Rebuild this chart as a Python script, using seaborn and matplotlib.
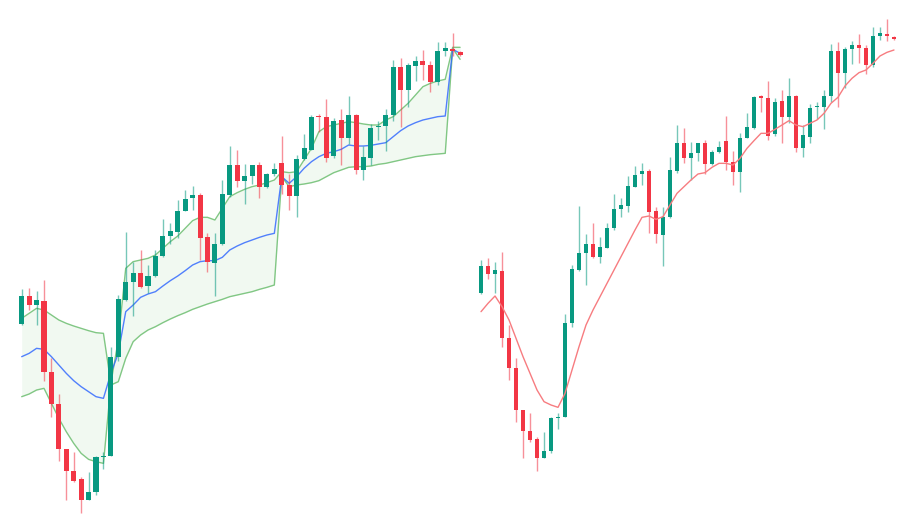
import numpy as np
import pandas as pd
import seaborn as sns
import matplotlib
matplotlib.use("Agg")
import matplotlib.pyplot as plt

sns.set_theme(style="white")

# OHLC in price units
opens  = [552,632,607,617,417,327,200,137,113,55,77,175,178,460,620,672,697,660,687,745,802,812,870,907,917,797,725,778,917,1002,955,970,1002,938,975,1007,945,915,1017,1045,1140,1137,1027,1127,1078,1142,987,1020,1108,1110,1142,1277,1212,1282,1294,1285,1235,1322,1328,1320]
closes = [632,607,620,417,327,200,137,110,55,77,175,178,460,622,670,697,658,688,745,802,815,872,905,917,795,727,778,920,1002,955,970,1002,938,975,990,945,915,1017,1048,1138,1137,1022,1125,1078,1142,987,1025,1107,1110,1142,1277,1212,1283,1295,1285,1235,1323,1332,1322,1312]
highs  = [650,655,645,675,455,355,200,190,120,135,180,190,488,635,812,728,760,720,760,848,837,902,932,942,922,810,810,960,1055,1045,1005,1002,1010,980,1008,1083,977,1030,1090,1142,1145,1187,1135,1160,1195,1145,1055,1118,1125,1160,1298,1303,1288,1308,1327,1295,1348,1348,1373,1322]
lows   = [548,592,550,390,290,165,55,105,17,55,70,142,178,448,618,575,655,640,685,740,778,795,870,875,732,700,632,775,910,940,890,947,907,935,970,920,875,855,1015,1043,1095,1010,1022,1002,1060,975,960,1002,1072,1042,1125,1108,1165,1238,1240,1208,1228,1310,1308,1310]

# right panel moving average (price units)
ma_right = [495,520,542,510,470,415,360,310,260,225,215,208,250,320,390,455,500,540,580,620,660,700,740,778,782,772,780,815,850,870,890,908,912,928,940,940,935,955,985,1008,1030,1030,1042,1055,1068,1055,1050,1060,1070,1090,1120,1138,1172,1195,1212,1220,1240,1262,1273,1280]

# left panel bands (read in left-panel pixel scale)
upper_px = [895,880,865,870,885,900,910,918,925,932,938,940,1090,960,745,725,720,715,705,685,665,648,625,602,592,592,600,565,530,518,508,500,495,488,480,455,458,455,420,385,335,320,315,310,305,308,312,315,315,300,290,270,250,225,200,190,183,178,82,82]
middle_px = [1010,1000,985,988,1010,1035,1060,1082,1100,1115,1130,1135,1060,1000,875,855,832,822,815,798,782,768,752,735,725,722,722,712,690,678,668,660,652,645,640,470,490,470,445,425,410,400,395,388,375,378,378,376,372,368,350,332,318,308,300,295,290,288,88,100]
lower_px = [1130,1122,1110,1105,1150,1195,1235,1270,1300,1318,1325,1330,1095,1085,1015,965,945,930,920,908,897,887,878,868,860,852,845,838,830,825,820,815,808,802,795,470,500,495,492,488,482,470,458,450,442,440,440,438,433,430,425,420,415,410,407,404,402,400,85,118]

def to_price(v):
    return [1400 - (y - 11.5) / 1.062 for y in v]

idx = np.arange(len(opens))
df = pd.DataFrame({"i": idx, "o": opens, "c": closes, "h": highs, "l": lows,
                   "ma": ma_right, "up": to_price(upper_px),
                   "mid": to_price(middle_px), "lo": to_price(lower_px)})

GREEN = "#089981"
RED = "#f23645"

fig = plt.figure(figsize=(9.1, 5.22), dpi=100)
axL = fig.add_axes([0, 0, 465/910, 1])
axR = fig.add_axes([465/910, 0, 445/910, 1])

def candles(ax):
    up = df["c"] >= df["o"]
    cols = np.where(up, GREEN, RED)
    ax.vlines(df["i"], df["l"], df["h"], colors=cols, linewidth=1.0, alpha=0.55, zorder=3)
    bottom = np.minimum(df["o"], df["c"])
    height = np.maximum(np.abs(df["c"] - df["o"]), 4)
    ax.bar(df["i"], height, bottom=bottom, width=0.68, color=cols, linewidth=0, zorder=4)

# left
axL.fill_between(df["i"], df["lo"], df["up"], color="#e8f5e9", alpha=0.6, zorder=1, linewidth=0)
sns.lineplot(data=df, x="i", y="up", ax=axL, color="#81c784", linewidth=1.0, zorder=2)
sns.lineplot(data=df, x="i", y="lo", ax=axL, color="#81c784", linewidth=1.0, zorder=2)
sns.lineplot(data=df, x="i", y="mid", ax=axL, color="#2962ff", linewidth=1.0, alpha=0.8, zorder=2)
candles(axL)
axL.set_xlim(-2.92, 59.66)
axL.set_ylim(-7.2, 1467.3)

# right
candles(axR)
sns.lineplot(data=df, x="i", y="ma", ax=axR, color="#f77c80", linewidth=1.0, zorder=5)
axR.set_xlim(-2.29, 61.29)
axR.set_ylim(-136, 1430)

for ax in (axL, axR):
    ax.axis("off")

fig.savefig("out.png", dpi=100)
